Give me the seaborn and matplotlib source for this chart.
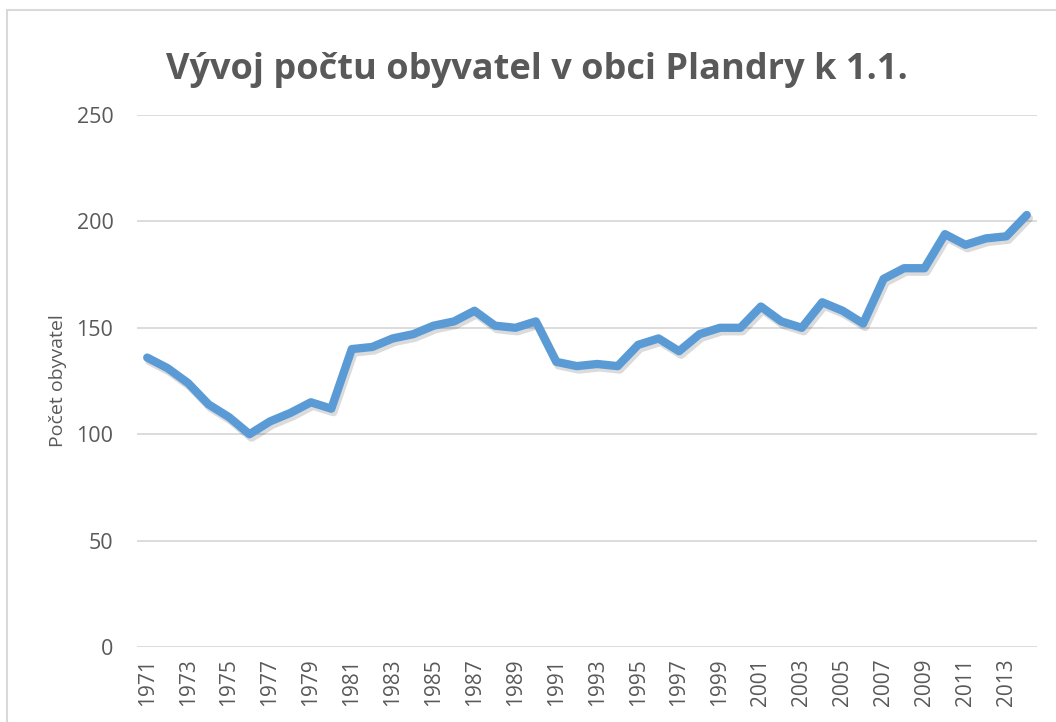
import matplotlib
matplotlib.use("Agg")
import matplotlib.pyplot as plt
import matplotlib.patheffects as pe
from matplotlib.patches import Rectangle
import pandas as pd
import seaborn as sns

# population of Plandry on 1 January
years = list(range(1971, 2015))
population = [136, 131, 124, 114, 108, 100, 106, 110, 115, 112,
              140, 141, 145, 147, 151, 153, 158, 151, 150, 153,
              134, 132, 133, 132, 142, 145, 139, 147, 150, 150,
              160, 153, 150, 162, 158, 152, 173, 178, 178, 194,
              189, 192, 193, 203]
tick_years = list(range(1971, 2014, 2))
y_ticks = [0, 50, 100, 150, 200, 250]

df = pd.DataFrame({"rok": years, "obyvatel": population})

sns.set_theme(style="white")
plt.rcParams['font.family'] = ['Open Sans', 'DejaVu Sans']

fig = plt.figure(figsize=(10.56, 7.22), dpi=100)
ax = fig.add_axes([137 / 1056, 1 - 647 / 722, 900 / 1056, 532 / 722])

sns.lineplot(data=df, x="rok", y="obyvatel", ax=ax, color="#5b9bd5",
             linewidth=6, solid_joinstyle="round", solid_capstyle="round",
             path_effects=[pe.SimpleLineShadow(offset=(1.5, -2.5), shadow_color="#000000", alpha=0.14),
                           pe.Normal()])

ax.set_xlim(1970.5, 2014.5)
ax.set_ylim(0, 250)
ax.set_yticks(y_ticks)
ax.set_xticks(tick_years)
ax.set_xticklabels([str(t) for t in tick_years], rotation=90)
ax.tick_params(axis="y", length=0, pad=17, labelsize=15.5, labelcolor="#595959")
ax.tick_params(axis="x", length=0, pad=8, labelsize=15, labelcolor="#595959")
ax.yaxis.grid(True, color="#d9d9d9", linewidth=1.3)
ax.set_axisbelow(True)
for s in ax.spines.values():
    s.set_visible(False)

ax.set_xlabel("")
ax.set_ylabel("Počet obyvatel", fontsize=14, color="#595959", labelpad=7)

fig.text(537 / 1056, 1 - 70 / 722, "Vývoj počtu obyvatel v obci Plandry k 1.1.",
         ha="center", va="center", fontsize=26, fontweight="bold", color="#595959")

fig.add_artist(Rectangle((7 / 1056, -0.1), 1.2, 1.1 - 10 / 722, fill=False,
                         edgecolor="#d9d9d9", linewidth=1.5, transform=fig.transFigure))

fig.savefig("out.png", dpi=100)
